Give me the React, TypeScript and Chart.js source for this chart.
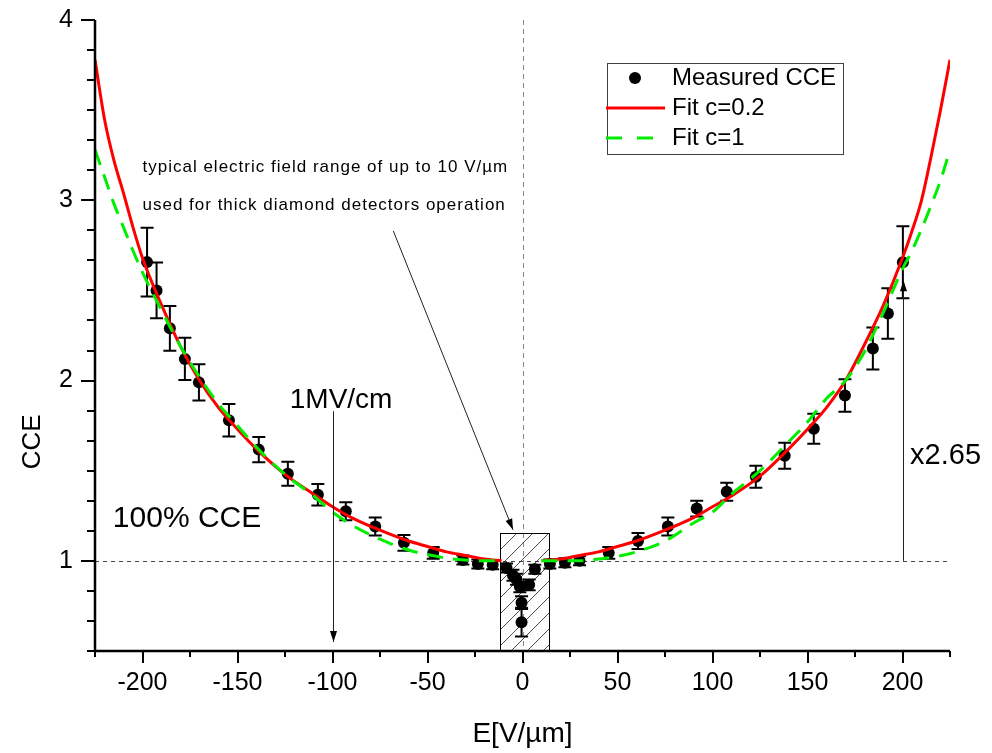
import React, { useEffect, useRef } from "react";
import { Chart, registerables } from "chart.js";

Chart.register(...registerables);

// ---------------- data ----------------
const measuredE = [-197.6, -192.6, -185.6, -177.7, -170.3, -154.5, -138.8, -123.5, -107.7, -93, -77.5, -62.4, -47, -31.4, -23.5, -15.7, -8.4, -5, -3.2, -1.4, -0.5, -0.5, 3.5, 6.5, 14.4, 22.3, 30, 45.4, 60.8, 76.5, 91.7, 107.5, 122.8, 138, 153.3, 169.7, 184.4, 192.3, 200.2];
const measuredCCE = [2.657, 2.5, 2.29, 2.12, 1.99, 1.78, 1.617, 1.483, 1.367, 1.275, 1.19, 1.1, 1.044, 1.005, 0.983, 0.978, 0.96, 0.92, 0.898, 0.856, 0.768, 0.66, 0.867, 0.954, 0.983, 0.99, 1.0, 1.044, 1.11, 1.19, 1.29, 1.383, 1.467, 1.583, 1.733, 1.917, 2.178, 2.372, 2.656];
const measuredErr = [0.19, 0.155, 0.124, 0.117, 0.1, 0.09, 0.07, 0.067, 0.06, 0.05, 0.05, 0.044, 0.033, 0.025, 0.025, 0.025, 0.025, 0.03, 0.03, 0.03, 0.035, 0.08, 0.03, 0.025, 0.025, 0.025, 0.025, 0.033, 0.044, 0.05, 0.044, 0.05, 0.061, 0.072, 0.083, 0.09, 0.117, 0.14, 0.2];

const fit02E = [-225, -220, -215, -210, -205, -200, -190, -180, -170, -160, -150, -140, -125, -110, -100, -90, -75, -60, -50, -40, -30, -20, -11, 0, 10, 20, 30, 40, 50, 60, 75, 90, 100, 110, 125, 140, 150, 160, 170, 180, 190, 200, 205, 210, 215, 220, 225];
const fit02CCE = [3.78, 3.45, 3.22, 3.04, 2.85, 2.68, 2.42, 2.19, 2.0, 1.85, 1.73, 1.62, 1.48, 1.37, 1.3, 1.24, 1.17, 1.11, 1.08, 1.05, 1.03, 1.01, 1.0, null, 1.0, 1.01, 1.03, 1.05, 1.08, 1.11, 1.17, 1.24, 1.3, 1.36, 1.47, 1.62, 1.73, 1.85, 2.0, 2.2, 2.42, 2.68, 2.83, 3.0, 3.24, 3.5, 3.78];

const fit1E = [-225, -220, -215, -210, -205, -200, -190, -180, -170, -160, -150, -140, -125, -110, -100, -90, -75, -60, -50, -40, -30, -20, -10, 0, 10, 20, 30, 40, 50, 60, 75, 90, 100, 110, 125, 140, 150, 160, 170, 180, 190, 200, 205, 210, 215, 220, 225];
const fit1CCE = [3.28, 3.13, 2.98, 2.85, 2.72, 2.6, 2.39, 2.19, 2.02, 1.87, 1.75, 1.63, 1.48, 1.36, 1.27, 1.2, 1.12, 1.06, 1.035, 1.015, 1.005, 1.0, 1.0, null, 1.0, 1.0, 1.0, 1.01, 1.025, 1.05, 1.11, 1.21, 1.27, 1.37, 1.5, 1.66, 1.77, 1.9, 2.0, 2.16, 2.38, 2.62, 2.72, 2.84, 2.97, 3.11, 3.28];

const xTickValues = [-200, -150, -100, -50, 0, 50, 100, 150, 200];
const yTickValues = [1, 2, 3, 4];
const xRange = [-225, 225];
const yRange = [0.5, 4];

const legendLabels = ["Measured CCE", "Fit c=0.2", "Fit c=1"];
const xTitle = "E[V/\u00b5m]";
const yTitle = "CCE";

// annotations (data coordinates)
const noteLines = ["typical electric field range of up to 10 V/\u00b5m", "used for thick diamond detectors operation"];
const noteAnchor = { x: -200, y1: 3.155, y2: 2.945 };
const noteArrow = { x1: -68, y1: 2.83, x2: -5, y2: 1.172 };
const fieldBox = { xMin: -12, xMax: 14, yMax: 1.156 };
const mvLabel = { text: "1MV/cm", x: -122.5, y: 1.85 };
const mvArrow = { x: -100, yFrom: 1.83, yTo: 0.55 };
const ccelabel = { text: "100% CCE", x: -215.6, y: 1.19 };
const ratioLabel = { text: "x2.65", x: 204, y: 1.54 };
const ratioArrow = { x: 200, yFrom: 1.0, yTo: 2.556 };

const FONT = '"Liberation Sans", Arial, Helvetica, sans-serif';
const RED = "#ff0000";
const GREEN = "#00ee00";

function arrowHead(ctx: CanvasRenderingContext2D, x1: number, y1: number, x2: number, y2: number) {
  const a = Math.atan2(y2 - y1, x2 - x1);
  const len = 11;
  const hw = 3.5;
  ctx.beginPath();
  ctx.moveTo(x2, y2);
  ctx.lineTo(x2 - len * Math.cos(a) + hw * Math.sin(a), y2 - len * Math.sin(a) - hw * Math.cos(a));
  ctx.lineTo(x2 - len * Math.cos(a) - hw * Math.sin(a), y2 - len * Math.sin(a) + hw * Math.cos(a));
  ctx.closePath();
  ctx.fill();
}

const overlayPlugin = {
  id: "overlay",
  beforeDatasetsDraw(chart: any) {
    const { ctx, chartArea: ca } = chart;
    const x = chart.scales.x;
    const y = chart.scales.y;
    ctx.save();
    // reference dashed lines
    ctx.lineWidth = 1;
    ctx.strokeStyle = "#444";
    ctx.setLineDash([4, 4]);
    const y1 = Math.round(y.getPixelForValue(1)) + 0.5;
    ctx.beginPath();
    ctx.moveTo(ca.left, y1);
    ctx.lineTo(ca.right, y1);
    ctx.stroke();
    ctx.strokeStyle = "#888";
    ctx.setLineDash([5, 4]);
    const x0 = Math.round(x.getPixelForValue(0)) + 0.5;
    ctx.beginPath();
    ctx.moveTo(x0, ca.top);
    ctx.lineTo(x0, ca.bottom);
    ctx.stroke();
    ctx.setLineDash([]);

    // hatched box
    const bl = Math.round(x.getPixelForValue(fieldBox.xMin)) + 0.5;
    const br = Math.round(x.getPixelForValue(fieldBox.xMax)) + 0.5;
    const bt = Math.round(y.getPixelForValue(fieldBox.yMax)) + 0.5;
    const bb = ca.bottom;
    ctx.save();
    ctx.beginPath();
    ctx.rect(bl, bt, br - bl, bb - bt);
    ctx.clip();
    ctx.strokeStyle = "#222";
    ctx.lineWidth = 0.8;
    for (let s = bl - (bb - bt); s < br + 20; s += 16) {
      ctx.beginPath();
      ctx.moveTo(s, bb);
      ctx.lineTo(s + (bb - bt), bt);
      ctx.stroke();
    }
    ctx.restore();
    ctx.strokeStyle = "#000";
    ctx.lineWidth = 1;
    ctx.strokeRect(bl, bt, br - bl, bb - bt);

    // error bars
    ctx.strokeStyle = "#000";
    ctx.lineWidth = 2;
    for (let i = 0; i < measuredE.length; i++) {
      const px = x.getPixelForValue(measuredE[i]);
      const pt = y.getPixelForValue(measuredCCE[i] + measuredErr[i]);
      const pb = y.getPixelForValue(measuredCCE[i] - measuredErr[i]);
      ctx.beginPath();
      ctx.moveTo(px, pt);
      ctx.lineTo(px, pb);
      ctx.moveTo(px - 6.5, pt);
      ctx.lineTo(px + 6.5, pt);
      ctx.moveTo(px - 6.5, pb);
      ctx.lineTo(px + 6.5, pb);
      ctx.stroke();
    }
    ctx.restore();
  },
  afterDatasetsDraw(chart: any) {
    const { ctx, chartArea: ca } = chart;
    const x = chart.scales.x;
    const y = chart.scales.y;
    ctx.save();

    // axes
    ctx.strokeStyle = "#000";
    ctx.lineWidth = 2.5;
    ctx.beginPath();
    ctx.moveTo(ca.left, ca.top);
    ctx.lineTo(ca.left, ca.bottom);
    ctx.lineTo(ca.right, ca.bottom);
    ctx.stroke();
    ctx.lineWidth = 2;
    // y ticks
    const ySteps = Math.round((yRange[1] - yRange[0]) * 6);
    for (let k = 0; k <= ySteps; k++) {
      const v = yRange[0] + k / 6;
      const isMajor = yTickValues.some((t) => Math.abs(t - v) < 1e-6);
      const py = Math.round(y.getPixelForValue(v));
      ctx.beginPath();
      ctx.moveTo(ca.left, py);
      ctx.lineTo(ca.left - (isMajor ? 14 : 8), py);
      ctx.stroke();
    }
    // x ticks
    for (let v = xRange[0]; v <= xRange[1]; v += 25) {
      const isMajor = xTickValues.includes(v);
      const px = Math.round(x.getPixelForValue(v));
      ctx.beginPath();
      ctx.moveTo(px, ca.bottom);
      ctx.lineTo(px, ca.bottom + (isMajor ? 12 : 6));
      ctx.stroke();
    }

    // axis titles
    ctx.fillStyle = "#000";
    ctx.font = `26px ${FONT}`;
    ctx.textAlign = "center";
    ctx.textBaseline = "middle";
    ctx.save();
    ctx.translate(33, y.getPixelForValue(1.66));
    ctx.rotate(-Math.PI / 2);
    ctx.fillText(yTitle, 0, 0);
    ctx.restore();
    ctx.font = `28px ${FONT}`;
    ctx.textBaseline = "alphabetic";
    ctx.fillText(xTitle, (ca.left + ca.right) / 2, 742);

    // annotations
    ctx.textAlign = "left";
    ctx.textBaseline = "alphabetic";
    ctx.font = `17px ${FONT}`;
    (ctx as any).letterSpacing = "1px";
    ctx.fillText(noteLines[0], x.getPixelForValue(noteAnchor.x), y.getPixelForValue(noteAnchor.y1));
    ctx.fillText(noteLines[1], x.getPixelForValue(noteAnchor.x), y.getPixelForValue(noteAnchor.y2));
    (ctx as any).letterSpacing = "0px";

    ctx.font = `28px ${FONT}`;
    ctx.fillText(mvLabel.text, x.getPixelForValue(mvLabel.x), y.getPixelForValue(mvLabel.y));
    ctx.font = `30px ${FONT}`;
    ctx.fillText(ccelabel.text, x.getPixelForValue(ccelabel.x), y.getPixelForValue(ccelabel.y));
    ctx.font = `29px ${FONT}`;
    ctx.fillText(ratioLabel.text, x.getPixelForValue(ratioLabel.x), y.getPixelForValue(ratioLabel.y));

    ctx.strokeStyle = "#222";
    ctx.fillStyle = "#000";
    ctx.lineWidth = 1;
    // note arrow
    {
      const ax1 = x.getPixelForValue(noteArrow.x1), ay1 = y.getPixelForValue(noteArrow.y1);
      const ax2 = x.getPixelForValue(noteArrow.x2), ay2 = y.getPixelForValue(noteArrow.y2);
      ctx.beginPath();
      ctx.moveTo(ax1, ay1);
      ctx.lineTo(ax2, ay2);
      ctx.stroke();
      arrowHead(ctx, ax1, ay1, ax2, ay2);
    }
    // 1MV/cm arrow
    {
      const ax = Math.round(x.getPixelForValue(mvArrow.x)) + 0.5;
      const ay1 = y.getPixelForValue(mvArrow.yFrom), ay2 = y.getPixelForValue(mvArrow.yTo);
      ctx.beginPath();
      ctx.moveTo(ax, ay1);
      ctx.lineTo(ax, ay2);
      ctx.stroke();
      arrowHead(ctx, ax, ay1, ax, ay2);
    }
    // x2.65 arrow
    {
      const ax = Math.round(x.getPixelForValue(ratioArrow.x)) + 0.5;
      const ay1 = y.getPixelForValue(ratioArrow.yFrom), ay2 = y.getPixelForValue(ratioArrow.yTo);
      ctx.beginPath();
      ctx.moveTo(ax, ay1);
      ctx.lineTo(ax, ay2);
      ctx.stroke();
      arrowHead(ctx, ax, ay1, ax, ay2);
    }

    // legend
    const lx = 607.5, ly = 63.5, lw = 236, lh = 91;
    ctx.fillStyle = "#fff";
    ctx.fillRect(lx, ly, lw, lh);
    ctx.strokeStyle = "#404040";
    ctx.lineWidth = 1;
    ctx.strokeRect(lx, ly, lw, lh);
    const rows = [78, 108, 138];
    ctx.fillStyle = "#000";
    ctx.beginPath();
    ctx.arc(635, rows[0], 6, 0, Math.PI * 2);
    ctx.fill();
    ctx.lineWidth = 3;
    ctx.strokeStyle = RED;
    ctx.beginPath();
    ctx.moveTo(606, rows[1]);
    ctx.lineTo(665, rows[1]);
    ctx.stroke();
    ctx.strokeStyle = GREEN;
    ctx.setLineDash([16, 15]);
    ctx.beginPath();
    ctx.moveTo(606, rows[2]);
    ctx.lineTo(665, rows[2]);
    ctx.stroke();
    ctx.setLineDash([]);
    ctx.font = `24px ${FONT}`;
    ctx.textBaseline = "middle";
    ctx.textAlign = "left";
    legendLabels.forEach((t, i) => ctx.fillText(t, 672, rows[i]));

    ctx.restore();
  },
};

export default function App() {
  const canvasRef = useRef<HTMLCanvasElement | null>(null);

  useEffect(() => {
    document.body.style.margin = "0";
    const canvas = canvasRef.current;
    if (!canvas) return;
    const chart = new Chart(canvas, {
      type: "scatter",
      data: {
        datasets: [
          {
            label: legendLabels[2],
            data: fit1E.map((e, i) => ({ x: e, y: fit1CCE[i] })),
            showLine: true,
            borderColor: GREEN,
            borderWidth: 3,
            borderDash: [16, 10],
            pointRadius: 0,
            cubicInterpolationMode: "monotone",
            spanGaps: false,
          } as any,
          {
            label: legendLabels[1],
            data: fit02E.map((e, i) => ({ x: e, y: fit02CCE[i] })),
            showLine: true,
            borderColor: RED,
            borderWidth: 3,
            pointRadius: 0,
            cubicInterpolationMode: "monotone",
            spanGaps: false,
          } as any,
          {
            label: legendLabels[0],
            data: measuredE.map((e, i) => ({ x: e, y: measuredCCE[i] })),
            pointRadius: 6,
            pointBackgroundColor: "#000",
            pointBorderWidth: 0,
            backgroundColor: "#000",
            borderColor: "#000",
          } as any,
        ],
      },
      options: {
        responsive: false,
        animation: false,
        devicePixelRatio: 1,
        layout: { padding: { top: 20, right: 42, left: 0, bottom: 0 } },
        plugins: { legend: { display: false }, tooltip: { enabled: false } },
        scales: {
          x: {
            type: "linear",
            min: xRange[0],
            max: xRange[1],
            afterBuildTicks: (ax: any) => {
              ax.ticks = xTickValues.map((v) => ({ value: v }));
            },
            afterFit: (s: any) => {
              s.height = 102;
              s.paddingLeft = 0;
              s.paddingRight = 0;
            },
            grid: { display: false, drawTicks: false },
            border: { display: false },
            ticks: {
              color: "#000",
              font: { family: FONT, size: 25 },
              padding: 17,
              maxRotation: 0,
              autoSkip: false,
            },
          },
          y: {
            type: "linear",
            min: yRange[0],
            max: yRange[1],
            afterBuildTicks: (ax: any) => {
              ax.ticks = yTickValues.map((v) => ({ value: v }));
            },
            afterFit: (s: any) => {
              s.width = 95;
              s.paddingTop = 0;
              s.paddingBottom = 0;
            },
            grid: { display: false, drawTicks: false },
            border: { display: false },
            ticks: {
              color: "#000",
              font: { family: FONT, size: 25 },
              padding: 22,
              autoSkip: false,
            },
          },
        },
      } as any,
      plugins: [overlayPlugin as any],
    });
    return () => chart.destroy();
  }, []);

  return (
    <div style={{ width: 992, height: 753, background: "#fff" }}>
      <canvas ref={canvasRef} width={992} height={753} style={{ display: "block" }} />
    </div>
  );
}
